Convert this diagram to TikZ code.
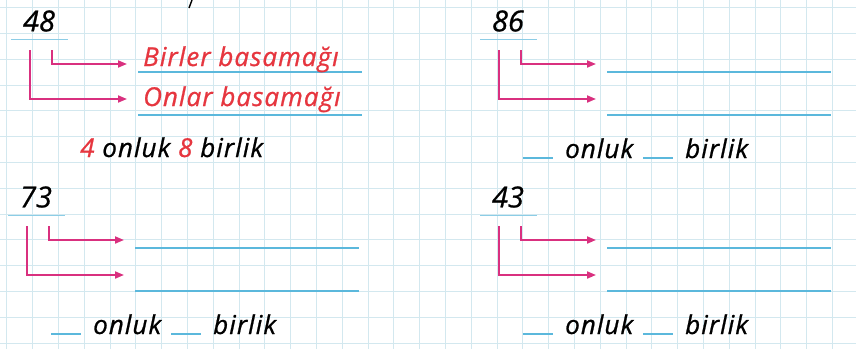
\documentclass[tikz,border=0pt]{standalone}
\usepackage{fontspec}
\setmainfont{Open Sans}
\newfontfamily\handfont{Open Sans}[LetterSpace=4, FakeBold=0.8]
\newfontfamily\digitfont{Open Sans}[FakeBold=0.8]
\usetikzlibrary{arrows.meta}
\definecolor{gridblue}{HTML}{D3E8EF}
\definecolor{lineblue}{HTML}{5BB8DC}
\definecolor{arrowpink}{HTML}{D9307F}
\definecolor{textred}{HTML}{E6363F}

\tikzset{
  gridline/.style={draw=gridblue, line width=0.8pt},
  answerline/.style={draw=lineblue, line width=1.6pt},
  numline/.style={draw=lineblue!70, line width=1.2pt},
  placearrow/.style={draw=arrowpink, line width=1.8pt, -{Triangle[length=9pt,width=7pt]}},
  numlabel/.style={font=\digitfont\itshape\fontsize{29}{29}\selectfont, inner sep=0pt},
  word/.style={font=\handfont\itshape\fontsize{26}{26}\selectfont, inner sep=0pt, anchor=base west},
}

\begin{document}
\begin{tikzpicture}[x=1pt,y=-1pt]
\useasboundingbox (0,0) rectangle (856,349);
\fill[white] (0,0) rectangle (856,349);
% squared paper
\foreach \i in {0,...,32}
  \draw[gridline] (6.7+25.8*\i,0) -- (6.7+25.8*\i,349);
\foreach \j in {0,...,13}
  \draw[gridline] (0,7.5+25.8*\j) -- (856,7.5+25.8*\j);
% tail of a letter cut off at the top
\draw[line width=1.4pt] (192,0) -- (189,8);

% four exercises: name / shift x / shift y / number
\foreach \p/\dx/\dy/\num in {a/0/0/48, b/469/0/86, c/-3/176/73, d/469/176/43}{
  \begin{scope}[shift={(\dx,\dy)}]
    \node[numlabel] (num-\p) at (39,21) {\num};
    \draw[numline] (11,39.5) -- (68,39.5);
    % ones and tens arrows
    \coordinate (one-\p) at (52,50);
    \coordinate (ten-\p) at (30,50);
    \coordinate (onetip-\p) at (127,64);
    \coordinate (tentip-\p) at (127,99);
    \draw[placearrow] (one-\p) |- (onetip-\p);
    \draw[placearrow] (ten-\p) |- (tentip-\p);
    % answer lines
    \draw[answerline] (138,72) -- (362,72);
    \draw[answerline] (138,115) -- (362,115);
  \end{scope}
}

% worked example
\node[word, textred] (birler) at (143,66) {Birler basamağı};
\node[word, textred] (onlar) at (143,106) {Onlar basamağı};
\node[word] (count-a) at (80,157) {\textcolor{textred}{4} onluk \textcolor{textred}{8} birlik};

% blanks to fill
\foreach \p/\dx/\dy in {b/469/0, c/-3/176, d/469/176}{
  \begin{scope}[shift={(\dx,\dy)}]
    \draw[answerline, line width=1.2pt] (54,158) -- (84,158);
    \node[word] (onluk-\p) at (96,158) {onluk};
    \draw[answerline, line width=1.2pt] (174,158) -- (204,158);
    \node[word] (birlik-\p) at (216,158) {birlik};
  \end{scope}
}
\end{tikzpicture}
\end{document}
